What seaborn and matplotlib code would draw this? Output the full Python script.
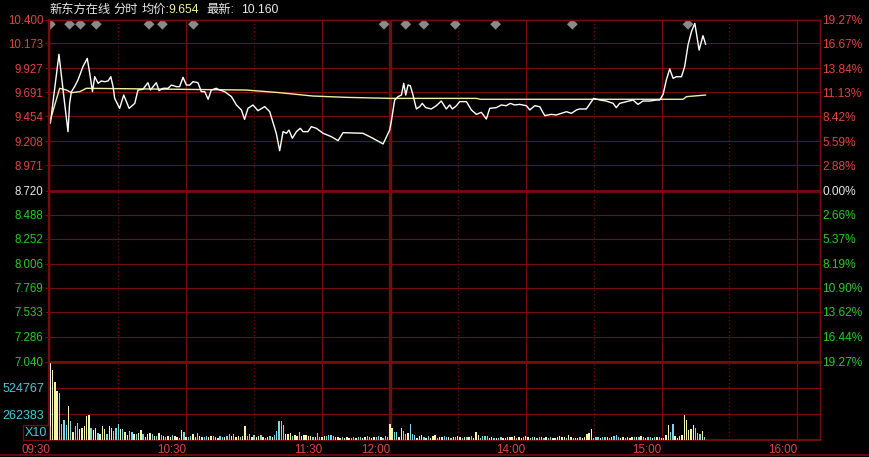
import numpy as np
import pandas as pd
import seaborn as sns
import matplotlib.pyplot as plt
from matplotlib.lines import Line2D

# ---- values (x = trading minutes from 09:30, lunch break removed) ----
price_min = [0, 3.8, 6.3, 7.8, 8.5, 9.3, 10.7, 12.2, 14.4, 16.3,
             17.4, 18.6, 19.6, 21.1, 22.5, 24.0, 25.5, 26.7, 27.7, 28.4,
             30.6, 32.4, 34.8, 37.3, 38.7, 40.9, 43.1, 44.2, 45.4, 46.8,
             48.0, 49.8, 52.0, 53.5, 55.7, 57.1, 58.6, 60.1, 61.6, 63.0,
             65.2, 66.7, 68.2, 69.7, 71.1, 73.3, 74.8, 77.0, 80.0, 82.2,
             84.4, 85.8, 87.3, 89.5, 91.7, 94.7, 96.9, 99.8, 101.3, 102.8,
             104.3, 105.4, 106.9, 108.7, 110.4, 111.6, 113.8, 115.3, 117.5, 120.5,
             124.1, 127.1, 129.3, 138.1, 142.5, 147.0, 149.9, 150.6, 152.1, 153.6,
             155.1, 156.1, 157.0, 158.0, 159.0, 160.2, 161.7, 163.2, 164.3, 165.8,
             168.3, 170.5, 172.7, 174.9, 176.4, 177.6, 179.4, 180.8, 183.8, 186.0,
             188.2, 190.4, 192.6, 194.1, 197.0, 199.2, 201.4, 203.2, 205.1, 207.3,
             210.3, 211.8, 214.0, 216.2, 218.4, 221.3, 223.5, 225.7, 228.0, 230.2,
             232.4, 233.8, 236.8, 238.5, 240.0, 242.7, 245.6, 248.6, 250.0, 251.5,
             254.5, 257.4, 259.6, 261.8, 264.8, 267.7, 269.2, 270.7, 272.1, 273.6,
             275.1, 276.5, 278.8, 280.2, 281.7, 283.2, 284.7, 286.6, 288.3, 289.5]
price_val = [9.385, 10.063, 9.581, 9.303, 9.581, 9.696, 9.745, 9.811, 9.942, 10.023,
             9.876, 9.696, 9.843, 9.778, 9.801, 9.794, 9.801, 9.843, 9.745, 9.631,
             9.532, 9.663, 9.532, 9.581, 9.712, 9.719, 9.784, 9.712, 9.745, 9.784,
             9.706, 9.729, 9.729, 9.761, 9.745, 9.745, 9.837, 9.761, 9.761, 9.794,
             9.784, 9.696, 9.696, 9.621, 9.712, 9.729, 9.712, 9.696, 9.647, 9.565,
             9.516, 9.424, 9.532, 9.565, 9.509, 9.549, 9.500, 9.287, 9.116, 9.303,
             9.287, 9.319, 9.238, 9.303, 9.336, 9.303, 9.303, 9.352, 9.336, 9.287,
             9.254, 9.215, 9.293, 9.287, 9.238, 9.182, 9.319, 9.401, 9.614, 9.647,
             9.663, 9.778, 9.663, 9.761, 9.755, 9.663, 9.526, 9.549, 9.581, 9.539,
             9.526, 9.558, 9.604, 9.526, 9.565, 9.526, 9.558, 9.598, 9.598, 9.516,
             9.473, 9.493, 9.427, 9.532, 9.539, 9.565, 9.558, 9.581, 9.565, 9.571,
             9.558, 9.516, 9.558, 9.548, 9.460, 9.473, 9.467, 9.483, 9.499, 9.483,
             9.516, 9.526, 9.526, 9.581, 9.630, 9.614, 9.604, 9.581, 9.539, 9.581,
             9.598, 9.614, 9.571, 9.604, 9.604, 9.614, 9.614, 9.670, 9.810, 9.919,
             9.827, 9.843, 9.843, 9.941, 10.154, 10.285, 10.367, 10.105, 10.246, 10.160]

avg_min = [0, 4.1, 7.1, 9.3, 13.0, 15.9, 86.6, 101.3, 116.0, 130.8, 150.0, 188.2, 190.0, 279.5, 281.0, 289.5]
avg_val = [9.418, 9.729, 9.712, 9.686, 9.696, 9.729, 9.712, 9.686, 9.653, 9.640, 9.630, 9.630, 9.621, 9.621, 9.647, 9.663]

# per-minute volume in thousands, and bar colour code (w = open, y = up, c = down)
vol_k = [790, 706, 582, 494, 471, 161, 202, 151, 343, 192,
         84, 141, 168, 111, 124, 141, 242, 252, 124, 101,
         124, 68, 61, 141, 111, 61, 141, 118, 91, 118,
         161, 111, 111, 84, 50, 91, 78, 64, 61, 71,
         101, 58, 33, 58, 68, 58, 37, 43, 71, 47,
         40, 35, 45, 30, 50, 38, 30, 25, 100, 78,
         30, 35, 45, 60, 30, 68, 40, 30, 35, 40,
         30, 45, 38, 30, 25, 40, 35, 30, 45, 60,
         40, 60, 35, 45, 30, 40, 143, 40, 60, 35,
         55, 30, 40, 55, 30, 25, 30, 40, 35, 50,
         91, 192, 192, 151, 60, 60, 70, 40, 50, 40,
         78, 45, 50, 55, 45, 40, 30, 35, 73, 35,
         30, 40, 45, 55, 50, 40, 35, 30, 25, 30,
         25, 30, 20, 25, 30, 25, 30, 35, 25, 30,
         40, 30, 25, 30, 35, 40, 30, 25, 40, 27,
         161, 118, 78, 78, 30, 118, 91, 61, 68, 161,
         58, 50, 25, 45, 50, 27, 20, 40, 25, 40,
         50, 25, 30, 30, 40, 35, 30, 25, 35, 30,
         45, 30, 25, 30, 35, 30, 40, 25, 83, 50,
         25, 40, 40, 40, 25, 30, 20, 25, 25, 30,
         20, 25, 30, 35, 35, 40, 25, 30, 25, 30,
         40, 30, 25, 35, 30, 25, 35, 30, 25, 30,
         25, 30, 25, 20, 30, 40, 35, 30, 25, 50,
         30, 25, 20, 25, 30, 25, 30, 60, 68, 110,
         25, 35, 30, 25, 30, 35, 30, 25, 30, 40,
         50, 30, 25, 30, 25, 30, 25, 30, 35, 30,
         30, 40, 30, 25, 35, 30, 25, 30, 35, 30,
         20, 25, 50, 151, 83, 161, 40, 25, 40, 50,
         252, 202, 101, 111, 151, 124, 68, 61, 91, 27]
vol_dir = ("wyyyccccyc" "yccyyyyycy" "ycyyycyycc" "cycyyccycy" "ycyyycycyc"
           "ycyycyycyc" "yccyycyycc" "yycyyccycc" "ycyycyyccy" "cyycycycyc"
           "ccccyyycyy" "cyyyyycycc" "yyccccyyyc" "yyyccyccyy" "ccyyccyccc"
           "yyccyyccyc" "ccyyycycyy" "ycyyccycyc" "yycycycyyy" "ccccyycycc"
           "yyyyyycyyc" "yyccyccycy" "ccyyyyyycy" "ycyycyyyyy" "cccyccycyc"
           "ccyycyyycy" "cycyccycyc" "yyyyccyyyy" "yyyyycccyc")

mark_min = [0, 8.5, 13.3, 20.3, 43.6, 49.5, 63.2, 147.4, 157.0, 165.0, 178.9, 196.7, 230.6, 281.7]

prev_close = 8.720
price_ticks = [10.400, 10.173, 9.927, 9.691, 9.454, 9.208, 8.971, 8.720,
               8.488, 8.252, 8.006, 7.769, 7.533, 7.286, 7.040]
pct_labels = ["19.27%", "16.67%", "13.84%", "11.13%", "8.42%", "5.59%", "2.88%", "0.00%",
              "2.66%", "5.37%", "8.19%", "10.90%", "13.62%", "16.44%", "19.27%"]
vol_ticks = [524767, 262383]
vol_top = 787150
time_ticks = [0, 60, 120, 150, 210, 270, 330]
time_labels = ["09:30", "10:30", "11:30", "12:00", "14:00", "15:00", "16:00"]
half_ticks = [30, 90, 180, 240, 300]

# ---- style ----
sns.set_theme(style="dark", rc={"axes.facecolor": "black", "figure.facecolor": "black"})
plt.rcParams["font.family"] = ["Liberation Sans", "Noto Sans CJK SC", "DejaVu Sans"]

grid_c = "#780c0c"
red_c = "#e04444"
green_c = "#2ec82e"
cyan_c = "#4cc8d8"
white_c = "#e8e8e8"
yellow_c = "#f0f0a0"

fig = plt.figure(figsize=(8.69, 4.57), dpi=100, facecolor="black")
W, H = 869, 457
x0, x1 = 49, 820
axp = fig.add_axes([x0 / W, (H - 362) / H, (x1 - x0) / W, 342 / H])
axv = fig.add_axes([x0 / W, (H - 440) / H, (x1 - x0) / W, 78 / H])
xlim = (-0.6, 340.0)

# ---- price panel ----
for v in price_ticks[1:-1]:
    axp.axhline(v, color=grid_c, lw=2.0 if v == prev_close else 0.8, zorder=1)
for t in time_ticks[1:]:
    for a in (axp, axv):
        a.axvline(t, color=grid_c, lw=2.4 if t == 150 else 0.9, zorder=1)
for t in half_ticks:
    for a in (axp, axv):
        a.axvline(t, color=grid_c, lw=0.9, ls=(0, (1, 2)), zorder=1)

sns.lineplot(x=avg_min, y=avg_val, color=yellow_c, lw=1.0, ax=axp, zorder=3)
sns.lineplot(x=price_min, y=price_val, color="white", lw=1.0, ax=axp, zorder=4)
sns.scatterplot(x=mark_min, y=[10.358] * len(mark_min), marker="D", s=30,
                color="#8a8a8a", edgecolor="none", ax=axp, zorder=5)

axp.set_xlim(*xlim)
axp.set_ylim(7.040, 10.400)
axp.set_xticks([])
axp.set_yticks(price_ticks)
axp.set_yticklabels([f"{v:.3f}" for v in price_ticks])
for lab, v in zip(axp.get_yticklabels(), price_ticks):
    lab.set_color(red_c if v > prev_close else (white_c if v == prev_close else green_c))
axp.tick_params(axis="y", length=3, width=0.8, color=grid_c, pad=1, labelsize=8.3)
axp.set_xlabel("")
axp.set_ylabel("")

axr = axp.twinx()
axr.set_ylim(7.040, 10.400)
axr.set_yticks(price_ticks)
axr.set_yticklabels(pct_labels)
for lab, v in zip(axr.get_yticklabels(), price_ticks):
    lab.set_color(red_c if v > prev_close else (white_c if v == prev_close else green_c))
axr.tick_params(axis="y", length=0, pad=1.5, labelsize=8.6)
axr.grid(False)

for a in (axp, axr):
    for s in a.spines.values():
        s.set_color(grid_c)
        s.set_linewidth(1.0)
axp.spines["left"].set_linewidth(1.6)
axp.spines["bottom"].set_linewidth(2.0)

# ---- volume panel ----
vol_df = pd.DataFrame({"minute": np.arange(len(vol_k)),
                       "volume": np.array(vol_k) * 1000,
                       "side": list(vol_dir)})
sns.barplot(data=vol_df, x="minute", y="volume", hue="side",
            palette={"w": "#ffffff", "y": "#f4f4a8", "c": "#7ad8e4"},
            native_scale=True, dodge=False, width=0.6, saturation=1,
            errorbar=None, legend=False, linewidth=0, ax=axv, zorder=3)
for v in vol_ticks:
    axv.axhline(v, color=grid_c, lw=0.9, zorder=1)
axv.set_xlim(*xlim)
axv.set_ylim(0, vol_top)
axv.set_yticks(vol_ticks)
axv.set_yticklabels([str(v) for v in vol_ticks])
axv.tick_params(axis="y", length=3, width=0.8, color=grid_c, pad=0.5, labelsize=9, labelcolor=cyan_c)
axv.set_xticks(time_ticks)
axv.set_xticklabels(time_labels, ha="right")
axv.tick_params(axis="x", length=0, pad=3, labelsize=8.4, labelcolor=red_c)
axv.set_xlabel("")
axv.set_ylabel("")
for s in axv.spines.values():
    s.set_color(grid_c)
    s.set_linewidth(1.0)
axv.spines["left"].set_linewidth(1.6)
axv.spines["top"].set_linewidth(2.0)
axv.spines["bottom"].set_linewidth(1.4)

fig.text(36 / W, 1 - 432.5 / H, "X10", ha="center", va="center", color=cyan_c, fontsize=9,
         bbox=dict(boxstyle="square,pad=0.12", fc="black", ec=grid_c, lw=1))
fig.add_artist(Line2D([0, 1], [2.5 / H, 2.5 / H], color=grid_c, lw=1.2, transform=fig.transFigure))

# ---- header ----
hy = 1 - 10 / H
fig.text(49 / W, hy, "新东方在线", color=white_c, fontsize=8.8, va="center")
fig.text(113 / W, hy, "分时", color=white_c, fontsize=8.8, va="center")
fig.text(141.5 / W, hy, "均价:", color=white_c, fontsize=8.8, va="center")
fig.text(168 / W, hy, "9.654", color=yellow_c, fontsize=8.8, va="center")
fig.text(206 / W, hy, "最新:", color=white_c, fontsize=8.8, va="center")
fig.text(241 / W, hy, "10.160", color=white_c, fontsize=8.8, va="center")

fig.savefig("out.png", dpi=100, facecolor="black")
